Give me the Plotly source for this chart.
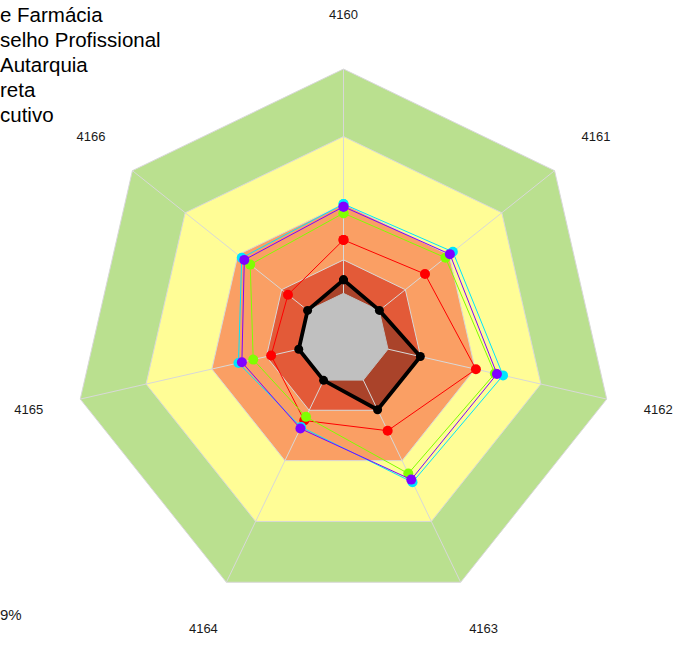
import plotly.graph_objects as go

categories = ["4160", "4161", "4162", "4163", "4164", "4165", "4166"]

# band limits (outer radius of each zone)
band_limits = [100, 75, 50, 29.3, 16.9]
band_colors = ["#BAE08F", "#FFFD96", "#FA9F64", "#E35A38", "#C0C0C0"]

series_names = ["e Farmácia", "selho Profissional", "Autarquia", "reta", "cutivo"]
series_colors = ["#00E5FF", "#8000FF", "#80FF00", "#FF0000", "#000000"]
s_farmacia = [50.0, 51.8, 60.6, 58.9, 36.2, 39.9, 48.2]
s_conselho = [49.0, 50.4, 58.3, 57.8, 36.8, 38.6, 47.0]
s_autarquia = [46.6, 48.3, 57.5, 55.3, 32.0, 34.3, 44.2]
s_reta = [36.7, 38.6, 50.3, 37.7, 33.5, 27.5, 26.3]
s_cutivo = [21.9, 17.0, 29.2, 29.1, 17.0, 17.0, 17.0]
series_values = [s_farmacia, s_conselho, s_autarquia, s_reta, s_cutivo]

footer_text = "9%"

RMAX = 100        # outer edge of the zones
AXIS_MAX = 120    # radial axis range (room for the labels)
LABEL_R = 119.6   # radius of the category labels

W, H = 678, 666
CX, CY = 343.5, 339.0          # centre in pixels (from top-left)
R_PX = 270.0 * AXIS_MAX / RMAX  # axis radius in pixels

theta_closed = categories + [categories[0]]


def closed(v):
    return list(v) + [v[0]]


fig = go.Figure()

# zones (outer to inner, except the grey centre which is drawn later)
for lim, col in zip(band_limits[:-1], band_colors[:-1]):
    fig.add_trace(go.Scatterpolar(
        r=[lim] * (len(categories) + 1), theta=theta_closed,
        mode="lines", fill="toself", fillcolor=col,
        line=dict(color="#D8D8D8", width=1),
        showlegend=False, hoverinfo="skip"))

# shaded area of the black series
fig.add_trace(go.Scatterpolar(
    r=closed(s_cutivo), theta=theta_closed, mode="none", fill="toself",
    fillcolor="rgba(0,0,0,0.25)", showlegend=False, hoverinfo="skip"))

# spokes
sp_r, sp_t = [], []
for c in categories:
    sp_r += [0, RMAX, None]
    sp_t += [c, c, None]
fig.add_trace(go.Scatterpolar(
    r=sp_r, theta=sp_t, mode="lines", line=dict(color="#D8D8D8", width=1),
    connectgaps=False, showlegend=False, hoverinfo="skip"))

# grey centre
fig.add_trace(go.Scatterpolar(
    r=[band_limits[-1]] * (len(categories) + 1), theta=theta_closed,
    mode="lines", fill="toself", fillcolor=band_colors[-1],
    line=dict(color=band_colors[-1], width=1),
    showlegend=False, hoverinfo="skip"))

# series, drawn bottom -> top
draw_order = [4, 3, 2, 0, 1]
for i in draw_order:
    is_black = (i == 4)
    fig.add_trace(go.Scatterpolar(
        r=closed(series_values[i]), theta=theta_closed,
        mode="lines+markers", name=series_names[i],
        line=dict(color=series_colors[i], width=3.8 if is_black else 1),
        marker=dict(color=series_colors[i], size=9 if is_black else 10),
        showlegend=False, cliponaxis=False))

# axis labels
fig.add_trace(go.Scatterpolar(
    r=[LABEL_R] * len(categories), theta=categories, mode="text",
    text=categories, textposition="middle center",
    textfont=dict(size=13, color="#1a1a1a", family="Arial, Liberation Sans"),
    cliponaxis=False, showlegend=False, hoverinfo="skip"))

# legend texts (the legend is cut off at the left edge of the picture)
LEG_TOP, LEG_STEP = 15.0, 25.0
annotations = []
for k, name in enumerate(series_names):
    annotations.append(dict(
        text=name, x=-2 / W, y=1 - (LEG_TOP + k * LEG_STEP) / H,
        xref="paper", yref="paper", xanchor="left", yanchor="middle",
        showarrow=False, align="left",
        font=dict(size=20.5, color="#000", family="Arial, Liberation Sans")))
annotations.append(dict(
    text=footer_text, x=-2 / W, y=1 - 614 / H, xref="paper", yref="paper",
    xanchor="left", yanchor="middle", showarrow=False,
    font=dict(size=15, color="#1a1a1a", family="Arial, Liberation Sans")))

fig.update_layout(
    width=W, height=H,
    margin=dict(l=0, r=0, t=0, b=0, autoexpand=False),
    paper_bgcolor="white", plot_bgcolor="white",
    font=dict(family="Arial, Liberation Sans", color="#000"),
    polar=dict(
        domain=dict(x=[(CX - R_PX) / W, (CX + R_PX) / W],
                    y=[(H - CY - R_PX) / H, (H - CY + R_PX) / H]),
        bgcolor="rgba(0,0,0,0)",
        gridshape="linear",
        radialaxis=dict(range=[0, AXIS_MAX], visible=False, showgrid=False),
        angularaxis=dict(
            type="category", categoryarray=categories,
            rotation=90, direction="clockwise",
            showgrid=False, showticklabels=False, ticks="",
            showline=False),
    ),
    showlegend=False,
    annotations=annotations,
)

fig.write_html("out.html", config={"displayModeBar": False},
               post_script="document.body.style.margin='0';")
